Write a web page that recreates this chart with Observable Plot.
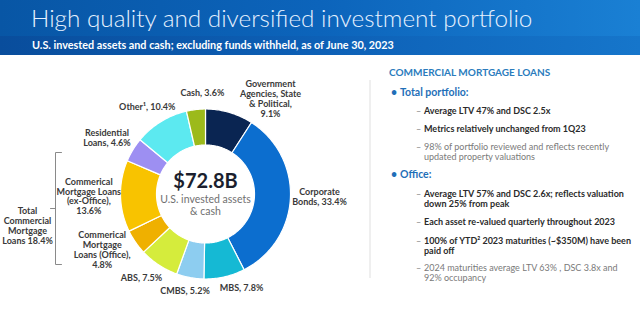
<!DOCTYPE html>
<html><head><meta charset="utf-8">
<script src="https://cdn.jsdelivr.net/npm/d3@7"></script>
<script src="https://cdn.jsdelivr.net/npm/@observablehq/plot@0.6"></script>
<style>
html,body{margin:0;padding:0;background:#fff;}
#page{position:relative;width:640px;height:314px;overflow:hidden;font-family:Lato,"Open Sans",sans-serif;}
#hdr{position:absolute;left:0;top:0;width:640px;height:36px;background:linear-gradient(90deg,#0856a5 0%,#0c64bb 50%,#1a80d4 100%);}
#sub{position:absolute;left:0;top:36px;width:640px;height:19px;background:linear-gradient(90deg,#094d9c 0%,#0d60b6 50%,#1676cb 100%);}
#title{position:absolute;left:31px;top:3px;color:#e6f1ff;font-weight:300;font-size:24.3px;line-height:30px;white-space:nowrap;}
#subtitle{position:absolute;left:32px;top:39px;color:#fff;font-weight:700;font-size:10.8px;line-height:12px;white-space:nowrap;}
#chart{position:absolute;left:0;top:55px;}
#divider{position:absolute;left:369px;top:80px;width:2px;height:198px;background:#efefef;}
.pl{position:absolute;white-space:nowrap;line-height:10px;}
.head{color:#2b7cbd;font-weight:700;font-size:10px;}
.bul{color:#1f6fb8;font-weight:700;font-size:10.5px;}
.dash{color:#888;font-size:9px;}
.b{color:#2b2b2b;font-weight:700;font-size:9px;}
.g{color:#7a7a7a;font-weight:400;font-size:9px;}
</style></head>
<body><div id="page">
<div id="hdr"></div><div id="sub"></div>
<div id="title">High quality and diversified investment portfolio</div>
<div id="subtitle">U.S. invested assets and cash; excluding funds withheld, as of June 30, 2023</div>
<div id="chart"></div>
<div id="divider"></div>
<div id="panel"></div>
</div>
<script>
// ---- data ----
const categories = ["Government Agencies, State & Political","Corporate Bonds","MBS","CMBS","ABS","Commerical Mortgage Loans (Office)","Commerical Mortgage Loans (ex-Office)","Residential Loans","Other¹","Cash"];
const shares = [9.1, 33.4, 7.8, 5.2, 7.5, 4.8, 13.6, 4.6, 10.4, 3.6];
const labelTemplates = ["Government\nAgencies, State\n& Political,\n{v}%","Corporate\nBonds, {v}%","MBS, {v}%","CMBS, {v}%","ABS, {v}%","Commerical\nMortgage\nLoans (Office),\n{v}%","Commerical\nMortgage Loans\n(ex-Office),\n{v}%","Residential\nLoans, {v}%","Other¹, {v}%","Cash, {v}%"];
const colors = ["#0a2552","#0c6ecf","#15b9d4","#8dcdf0","#d5ec3c","#efb000","#f8c300","#9d8ff2","#5ce9f0","#9cba1b"];
const totalValue = "$72.8B";
const centerSub = "U.S. invested assets\n& cash";
const cmlGroup = ["Commerical Mortgage Loans (Office)","Commerical Mortgage Loans (ex-Office)"];

// ---- layout (not data) ----
const W = 365, H = 259, CX = 205, CY = 138.5, R = 85, R0 = 49;
const labelAngleShift = [17.9,-1.5,-8,1.5,4.1,6.3,0.3,-1.6,-2,4.7];
const labelDist = [115.4,114,100.7,99.1,105.4,117.3,116.7,113.5,105,100.8];

const total = d3.sum(shares);
const pts = [], labels = [];
let cum = 0;
shares.forEach((v, i) => {
  const a0 = cum / total * 2 * Math.PI, a1 = (cum + v) / total * 2 * Math.PI;
  cum += v;
  const n = Math.max(2, Math.ceil((a1 - a0) / (Math.PI / 180)));
  for (let k = 0; k <= n; k++) { const a = a0 + (a1 - a0) * k / n; pts.push({cat: categories[i], x: R * Math.sin(a), y: -R * Math.cos(a)}); }
  for (let k = n; k >= 0; k--) { const a = a0 + (a1 - a0) * k / n; pts.push({cat: categories[i], x: R0 * Math.sin(a), y: -R0 * Math.cos(a)}); }
  const am = (a0 + a1) / 2 + labelAngleShift[i] * Math.PI / 180;
  labels.push({x: labelDist[i] * Math.sin(am), y: -labelDist[i] * Math.cos(am), text: labelTemplates[i].replace("{v}", v.toFixed(1))});
});
const cmlTotal = d3.sum(cmlGroup.map(c => shares[categories.indexOf(c)])).toFixed(1);

const bracket = [{x:-144,y:-41.5},{x:-150,y:-41.5},{x:-150,y:70.5},{x:-144,y:70.5}];

const chart = Plot.plot({
  width: W, height: H, margin: 0,
  x: {domain: [-CX, W - CX], range: [0, W], axis: null},
  y: {domain: [-CY, H - CY], range: [0, H], axis: null},
  color: {domain: categories, range: colors},
  style: {fontFamily: "Lato, 'Open Sans', sans-serif", background: "transparent"},
  marks: [
    Plot.line(pts, {x: "x", y: "y", z: "cat", fill: "cat", stroke: "white", strokeWidth: 1.2, curve: "linear-closed"}),
    Plot.text(labels, {x: "x", y: "y", text: "text", fontSize: 9, fontWeight: 700, fill: "#3a3a3a", lineHeight: 1.1, lineAnchor: "middle"}),
    Plot.text([totalValue], {x: 0, y: -12, text: d => d, fontSize: 20, fontWeight: 700, fill: "#1b1f2e", lineAnchor: "middle"}),
    Plot.text([centerSub], {x: 0, y: 11.5, text: d => d, fontSize: 10.5, fill: "#707070", lineHeight: 1.15, lineAnchor: "middle"}),
    Plot.line(bracket, {x: "x", y: "y", stroke: "#8a8a8a", strokeWidth: 1}),
    Plot.line([{x:-155,y:14.5},{x:-150,y:14.5}], {x: "x", y: "y", stroke: "#8a8a8a", strokeWidth: 1}),
    Plot.text([`Total\nCommercial\nMortgage\nLoans ${cmlTotal}%`], {x: -178, y: 31.5, text: d => d, fontSize: 9, fontWeight: 700, fill: "#3a3a3a", lineHeight: 1.1, lineAnchor: "middle"})
  ]
});
document.getElementById("chart").appendChild(chart);

// ---- right panel text ----
const panelHead = "COMMERCIAL MORTGAGE LOANS";
const panel = [
  {t:"bul", text:"Total portfolio:", y:92},
  {t:"b", lines:["Average LTV 47% and DSC 2.5x"], y:111},
  {t:"b", lines:["Metrics relatively unchanged from 1Q23"], y:129},
  {t:"g", lines:["98% of portfolio reviewed and reflects recently","updated property valuations"], y:147},
  {t:"bul", text:"Office:", y:174},
  {t:"b", lines:["Average LTV 57% and DSC 2.6x; reflects valuation","down 25% from peak"], y:194},
  {t:"b", lines:["Each asset re-valued quarterly throughout 2023"], y:222},
  {t:"b", lines:["100% of YTD² 2023 maturities (~$350M) have been","paid off"], y:241},
  {t:"g", lines:["2024 maturities average LTV 63% , DSC 3.8x and","92% occupancy"], y:268}
];
const P = document.getElementById("panel");
function add(cls, txt, x, yc){ const d=document.createElement("div"); d.className="pl "+cls; d.textContent=txt; d.style.left=x+"px"; d.style.top=(yc-5)+"px"; P.appendChild(d); }
add("head", panelHead, 389, 72);
panel.forEach(p => {
  if (p.t === "bul") { add("bul", "•", 391, p.y); add("bul", p.text, 400, p.y); }
  else { add("dash", "–", 416, p.y); p.lines.forEach((l, j) => add(p.t, l, 424, p.y + j * 9.5)); }
});
</script>
</body></html>
